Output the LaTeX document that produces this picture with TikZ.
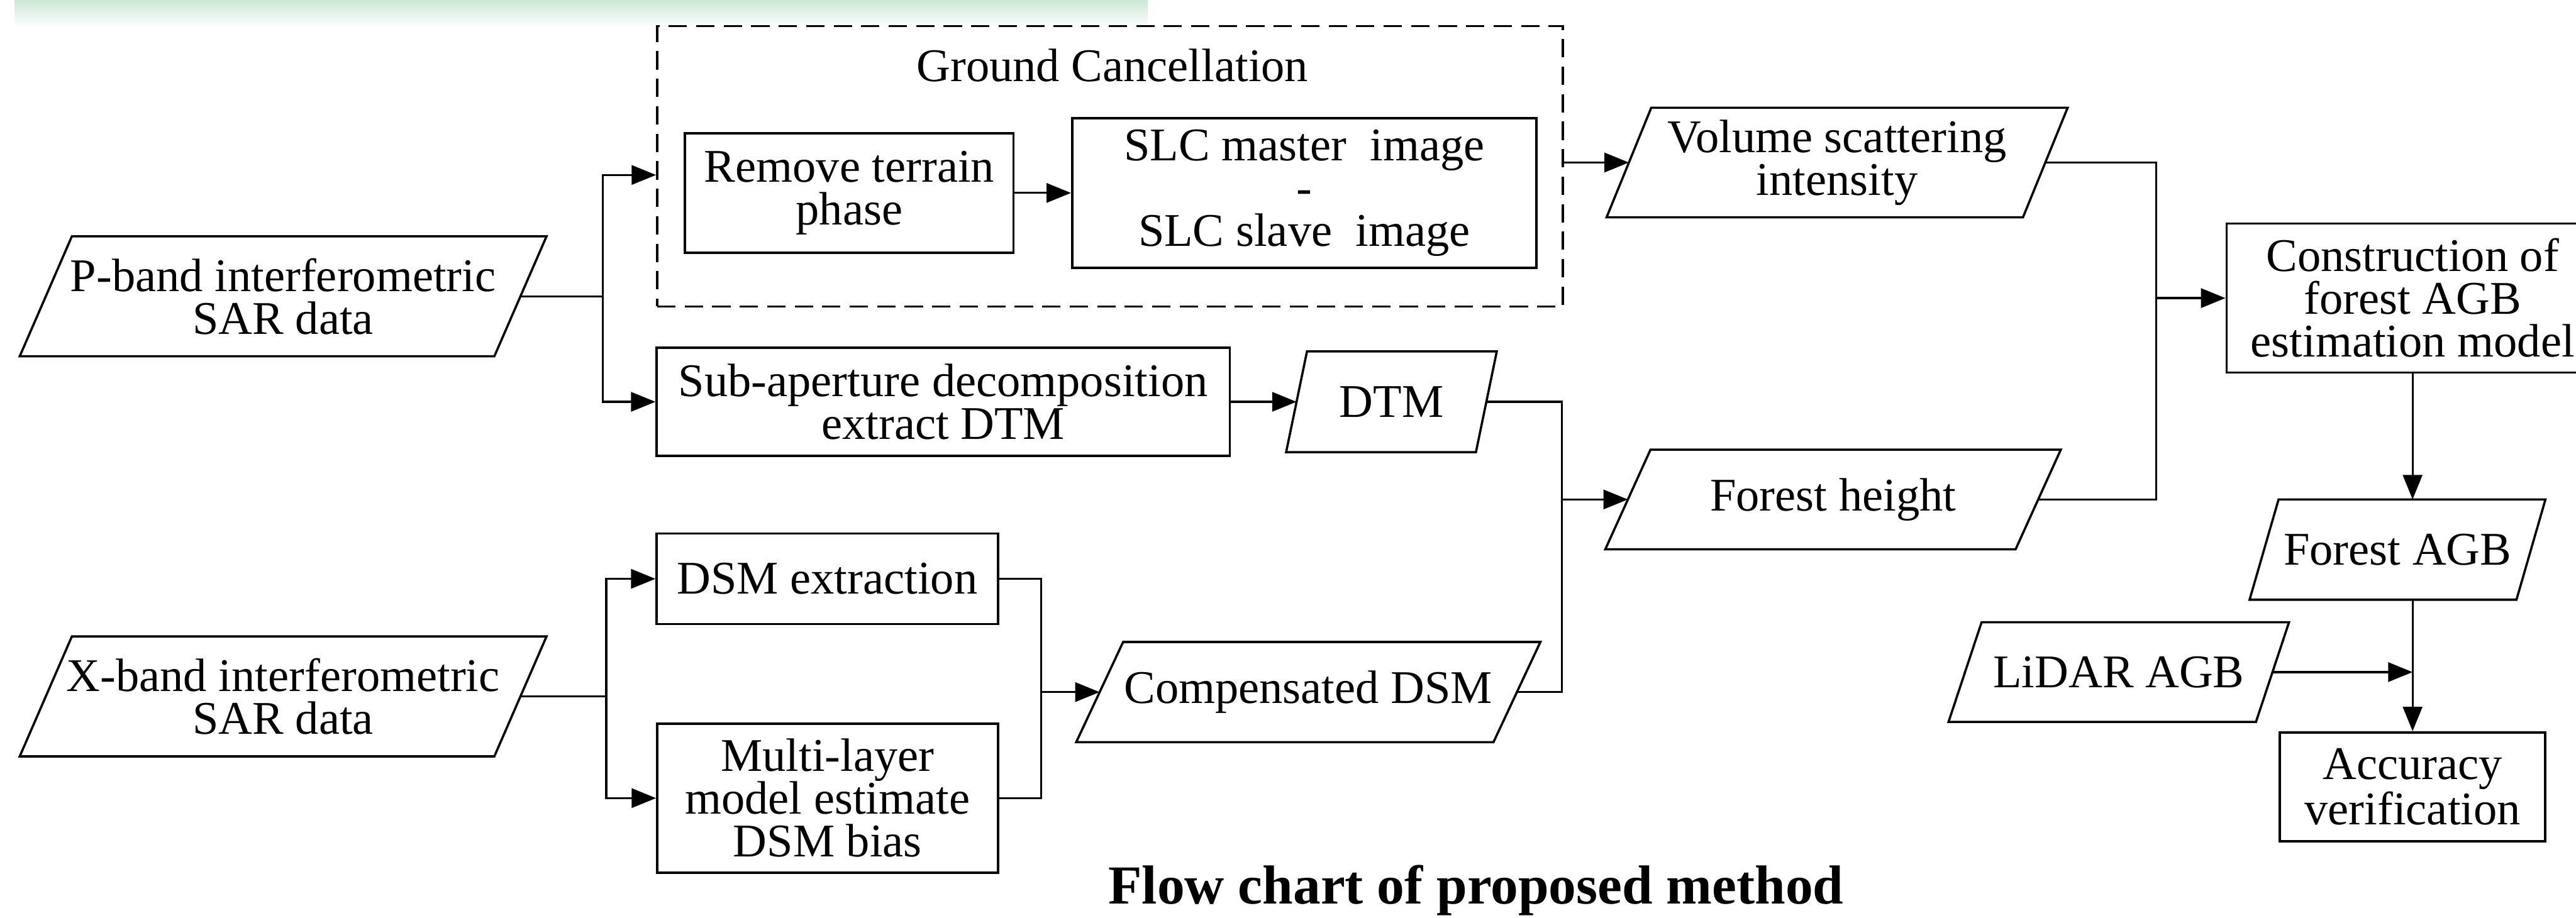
\documentclass[tikz,border=0pt]{standalone}
\usepackage{fontspec}
\setmainfont{Liberation Serif}
\usetikzlibrary{arrows.meta}

\definecolor{bannergreen}{RGB}{205,232,213}
\newcommand{\flowfont}{\fontsize{23}{21}\selectfont}
% outline of an input/output symbol round an unframed node: #1 node, #2 half slant
\newcommand{\ioframe}[2]{%
	\draw[frame] ([xshift=#2]#1.north west) -- ([xshift=#2]#1.north east)
		-- ([xshift=-#2]#1.south east) -- ([xshift=-#2]#1.south west) -- cycle;}

\tikzset{
	frame/.style={draw,line width=1.1pt},
	wire/.style={line width=1pt},
	arr/.style={wire,-{Triangle[length=12pt,width=9.5pt]}},
	box/.style={frame,rectangle,align=center,inner sep=2pt,font=\flowfont},
	iodata/.style={rectangle,align=center,inner sep=2pt,outer sep=0pt,font=\flowfont},
	groupbox/.style={draw,line width=1.1pt,dash pattern=on 9pt off 4.5pt,rectangle,inner sep=0pt}
}

\begin{document}
\begin{tikzpicture}
			\useasboundingbox (0,0) rectangle (44.45,15.84);
			\shade[top color=bannergreen,bottom color=white] (0.25,15.84) rectangle (19.8,15.36);

			% inputs
			\node[iodata,minimum width=8.19cm,minimum height=2.07cm] (pband) at (4.885,10.725) {P-band interferometric\\SAR data};
			\node[iodata,minimum width=8.19cm,minimum height=2.07cm] (xband) at (4.885,3.82) {X-band interferometric\\SAR data};
			\ioframe{pband}{0.45cm}
			\ioframe{xband}{0.45cm}

			% ground cancellation group
			\node[groupbox,minimum width=15.63cm,minimum height=4.84cm] (gc) at (19.155,12.97) {};
			\node[font=\flowfont,anchor=base] (gctitle) at (19.195,14.43) {Ground Cancellation};
			\node[box,minimum width=5.67cm,minimum height=2.06cm] (rmv) at (14.655,12.51) {Remove terrain\\phase};
			\node[box,minimum width=8.01cm,minimum height=2.58cm] (slc) at (22.505,12.51) {SLC master\ \ image\\-\\SLC slave\ \ image};

			% processing
			\node[box,minimum width=9.89cm,minimum height=1.87cm] (subap) at (16.275,8.905) {Sub-aperture decomposition\\extract DTM};
			\node[box,minimum width=5.89cm,minimum height=1.56cm] (dsmx) at (14.275,5.85) {DSM extraction};
			\node[box,minimum width=5.88cm,minimum height=2.57cm] (mlay) at (14.28,2.065) {Multi-layer\\model estimate\\DSM bias};

			\node[iodata,minimum width=3.275cm,minimum height=1.74cm] (dtm) at (24.01,8.905) {DTM};
			\node[iodata,minimum width=7.2cm,minimum height=1.73cm] (cdsm) at (22.575,3.895) {Compensated DSM};
			\node[iodata,minimum width=7.185cm,minimum height=1.89cm] (vol) at (31.70,13.035) {Volume scattering\\intensity};
			\node[iodata,minimum width=7.08cm,minimum height=1.72cm] (fht) at (31.63,7.22) {Forest height};
			\ioframe{dtm}{0.18cm}
			\ioframe{cdsm}{0.405cm}
			\ioframe{vol}{0.385cm}
			\ioframe{fht}{0.39cm}

			% model and validation
			\node[box,minimum width=6.42cm,minimum height=2.57cm] (agbmodel) at (41.63,10.695) {Construction of\\forest AGB\\estimation model};
			\node[iodata,minimum width=4.605cm,minimum height=1.73cm] (fagb) at (41.37,6.355) {Forest AGB};
			\node[iodata,minimum width=5.305cm,minimum height=1.72cm] (lidar) at (36.56,4.24) {LiDAR AGB};
			\node[box,minimum width=4.58cm,minimum height=1.88cm] (acc) at (41.63,2.26) {Accuracy\\verification};
			\ioframe{fagb}{0.25cm}
			\ioframe{lidar}{0.285cm}

			\node[font=\fontsize{27}{30}\selectfont\bfseries,anchor=base] (title) at (25.47,0.24) {Flow chart of proposed method};

			% junctions
			\coordinate (pj) at ([xshift=1.42cm]pband.east);
			\coordinate (xj) at ([xshift=1.48cm]xband.east);
			\coordinate (dj) at ([xshift=0.73cm]dsmx.east);
			\coordinate (hj) at ([xshift=1.30cm]dtm.east);
			\coordinate (mj) at ([xshift=1.91cm]vol.east);

			\draw[wire] (pband.east) -- (pj);
			\draw[arr] (pj) |- ([yshift=-1.5mm]gc.west);
			\draw[arr] (pj) |- (subap.west);
			\draw[arr] (rmv.east) -- (slc.west);
			\draw[arr] (gc.east |- vol.west) -- (vol.west);
			\draw[arr] (subap.east) -- (dtm.west);

			\draw[wire] (xband.east) -- (xj);
			\draw[arr] (xj) |- (dsmx.west);
			\draw[arr] (xj) |- (mlay.west);
			\draw[wire] (dsmx.east) -- (dj) |- (mlay.east);
			\draw[arr] (dj |- cdsm.west) -- (cdsm.west);

			\draw[wire] (dtm.east) -- (hj) |- (cdsm.east);
			\draw[arr] (hj |- fht.west) -- (fht.west);
			\draw[wire] (vol.east) -- (mj) |- (fht.east);
			\draw[arr] (mj |- agbmodel.west) -- (agbmodel.west);

			\draw[arr] (agbmodel.south) -- (agbmodel.south |- fagb.north);
			\draw[arr] (agbmodel.south |- fagb.south) -- (acc.north);
			\draw[arr] (lidar.east) -- (lidar.east -| acc.north);
		\end{tikzpicture}
\end{document}
